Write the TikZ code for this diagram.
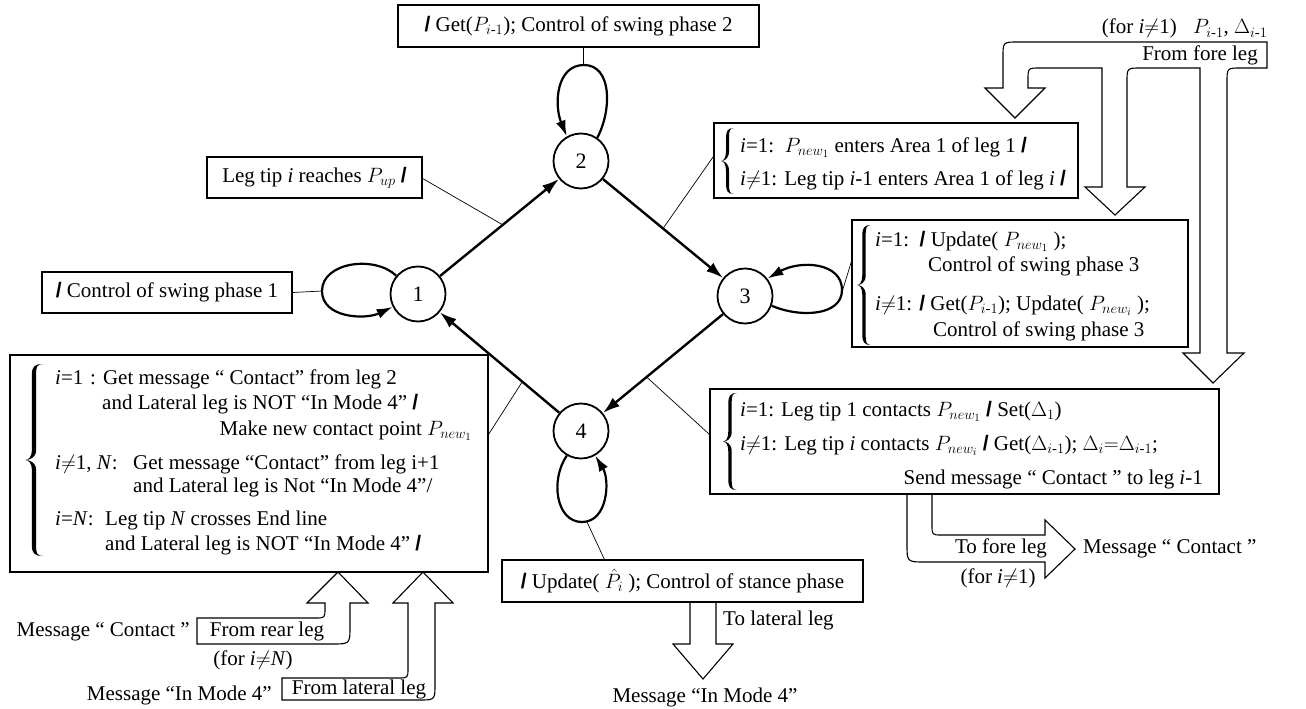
\documentclass[tikz,border=0pt]{standalone}
\usepackage{amsmath}
\usepackage{fontspec}
\setmainfont{Liberation Serif}
\newfontfamily\slashfont{Liberation Sans}
\usetikzlibrary{arrows.meta,calc}
\newcommand{\slsh}{{\slashfont\bfseries /}}
\newcommand{\myhy}{\text{-}}
% #1 x of the brace ends, #2 top y, #3 height, #4 width, #5 half thickness
\newcommand{\drawbrace}[5]{%
  \pgfmathsetmacro\bxm{#1-0.5*#4}%
  \pgfmathsetmacro\bxo{\bxm-#5}%
  \pgfmathsetmacro\bxi{\bxm+#5}%
  \pgfmathsetmacro\bxt{#1-#4}%
  \pgfmathsetmacro\bym{#2+0.5*#3}%
  \pgfmathsetmacro\byb{#2+#3}%
  \fill (#1,#2) .. controls (\bxm,#2) and (\bxo,#2+3) .. (\bxo,#2+11)
    -- (\bxo,\bym-10)
    .. controls (\bxo,\bym-3) and (#1-0.8*#4,\bym) .. (\bxt,\bym)
    .. controls (#1-0.8*#4,\bym) and (\bxo,\bym+3) .. (\bxo,\bym+10)
    -- (\bxo,\byb-11)
    .. controls (\bxo,\byb-3) and (\bxm,\byb) .. (#1,\byb)
    .. controls (\bxm+0.15*#4,\byb) and (\bxi,\byb-3) .. (\bxi,\byb-11)
    -- (\bxi,\bym+10)
    .. controls (\bxi,\bym+2) and (#1-0.75*#4,\bym) .. (\bxt,\bym)
    .. controls (#1-0.75*#4,\bym) and (\bxi,\bym-2) .. (\bxi,\bym-10)
    -- (\bxi,#2+11)
    .. controls (\bxi,#2+3) and (\bxm+0.15*#4,#2) .. (#1,#2) -- cycle;%
}
\begin{document}
\begin{tikzpicture}[x=1pt,y=-1pt,
  lbl/.style={font=\fontsize{21}{25}\selectfont, inner sep=0pt, anchor=base west},
  box/.style={draw, line width=1.1pt, inner sep=0pt, font=\fontsize{21}{25}\selectfont},
  state/.style={circle, draw, line width=1.8pt, minimum size=55pt, inner sep=0pt, font=\fontsize{22}{25}\selectfont},
  trans/.style={line width=2.4pt, -{Latex[length=17pt,width=11pt]}},
  selfloop/.style={line width=2.2pt, -{Latex[length=16pt,width=10pt]}},
  note/.style={line width=0.7pt},
  hollow/.style={line width=1.1pt, line join=miter}
]
\useasboundingbox (0,0) rectangle (1306,709);
\fill[white] (0,0) rectangle (1306,709);

% states
\node[state] (c1) at (418,294) {1};
\node[state] (c2) at (581,161) {2};
\node[state] (c3) at (745,296) {3};
\node[state] (c4) at (581,431) {4};

\draw[trans] (c1) -- (c2);
\draw[trans] (c2) -- (c3);
\draw[trans] (c3) -- (c4);
\draw[trans] (c4) -- (c1);

% self loops
\draw[selfloop] (c1.140) .. controls (375,255) and (322,262) .. (322,291) .. controls (322,318) and (365,320) .. (c1.207);
\draw[selfloop] (c2.55) .. controls (612,110) and (612,65) .. (584,65) .. controls (556,65) and (554,105) .. (c2.120);
\draw[selfloop] (c3.-20) .. controls (800,318) and (842,316) .. (842,290) .. controls (842,262) and (800,260) .. (c3.38);
\draw[selfloop] (c4.240) .. controls (550,480) and (556,522) .. (582,522) .. controls (608,522) and (610,480) .. (c4.-60);

\coordinate (l1) at (322,291);
\coordinate (l2) at (583,65);
\coordinate (l3) at (842,292);
\coordinate (l4) at (587,522);

% boxes
\node[box, minimum width=361pt, minimum height=42pt] (top) at (578.5,26) {\slsh{} Get($P_{i\myhy1}$); Control of swing phase 2};
\node[box, minimum width=215pt, minimum height=41pt] (legtip) at (314.5,177.5) {Leg tip \textit{i} reaches $P_{up}$ \slsh};
\node[box, minimum width=250pt, minimum height=41pt] (ctrl1) at (167,292.5) {\slsh{} Control of swing phase 1};
\node[box, minimum width=364pt, minimum height=75pt] (boxA) at (896,160.5) {};
\node[box, minimum width=336pt, minimum height=127pt] (box3) at (1020,283.5) {};
\node[box, minimum width=509pt, minimum height=105pt] (box4) at (964.5,441.5) {};
\node[box, minimum width=478pt, minimum height=217pt] (boxL) at (249,463.5) {};
\node[box, minimum width=361pt, minimum height=42pt] (upd) at (682.5,581) {\slsh{} Update( $\hat{P}_i$ ); Control of stance phase};

% note lines
\draw[note] (top.south -| l2) -- (l2);
\draw[note] (ctrl1.east) -- (l1);
\draw[note] ($(legtip.north east)+(0,22)$) -- ($(c1)!0.52!(c2)$);
\draw[note] ($(boxA.north west)+(0,34)$) -- ($(c2)!0.5!(c3)$);
\draw[note] ($(box3.north west)+(0,42)$) -- (l3);
\draw[note] ($(box4.north west)+(0,46)$) -- ($(c3)!0.6!(c4)$);
\draw[note] ($(boxL.north east)+(0,80)$) -- ($(c4)!0.36!(c1)$);
\draw[note] ($(upd.north west)+(103,0)$) -- (l4);

% braces
\drawbrace{734}{128}{66}{13}{1.5}
\drawbrace{871}{225}{120}{14}{1.7}
\drawbrace{737}{393}{97}{14}{1.7}
\drawbrace{43}{364}{192}{18}{2.1}

% box A
\node[lbl] (a1) at (740,152) {\textit{i}=1:\ \ $P_{new_1}$ enters Area 1 of leg 1 \slsh};
\node[lbl] (a2) at (740,185) {\textit{i}$\neq$1: Leg tip \textit{i}-1 enters Area 1 of leg \textit{i} \slsh};

% box 3
\node[lbl] (b1) at (875,246) {\textit{i}=1:\ \ \slsh{} Update( $P_{new_1}$ );};
\node[lbl] (b2) at (928,271) {Control of swing phase 3};
\node[lbl] (b3) at (875,310) {\textit{i}$\neq$1: \slsh{} Get($P_{i\myhy1}$); Update( $P_{new_i}$ );};
\node[lbl] (b4) at (933,336) {Control of swing phase 3};

% box 4 (right)
\node[lbl] (e1) at (740,416) {\textit{i}=1: Leg tip 1 contacts $P_{new_1}$ \slsh{} Set($\Delta_1$)};
\node[lbl] (e2) at (740,450) {\textit{i}$\neq$1: Leg tip \textit{i} contacts $P_{new_i}$ \slsh{} Get($\Delta_{i\myhy1}$); $\Delta_i{=}\Delta_{i\myhy1}$;};
\node[lbl, anchor=base east] (e3) at (1203,484) {Send message “ Contact ” to leg \textit{i}-1};

% box L
\node[lbl] (d1a) at (55,384) {\textit{i}=1};
\node[lbl] (d1b) at (90,384) {: Get message “ Contact” from leg 2};
\node[lbl] (d2) at (102,409) {and Lateral leg is NOT “In Mode 4” \slsh};
\node[lbl, anchor=base east] (d3) at (472,435) {Make new contact point $P_{new_1}$};
\node[lbl] (d4a) at (55,469) {\textit{i}$\neq$1, \textit{N}:};
\node[lbl] (d4b) at (133,469) {Get message “Contact” from leg i+1};
\node[lbl] (d5) at (133,492) {and Lateral leg is Not “In Mode 4”/};
\node[lbl] (d6a) at (55,525) {\textit{i}=\textit{N}:};
\node[lbl] (d6b) at (105,525) {Leg tip \textit{N} crosses End line};
\node[lbl] (d7) at (105,550) {and Lateral leg is NOT “In Mode 4” \slsh};

% hollow arrows
\draw[hollow] (1267,42) -- (1018,42) .. controls (1003,42) .. (1003,57) -- (1003,88) -- (985,88) -- (1015,118) -- (1045,88) -- (1028,88) -- (1028,80) .. controls (1028,68) .. (1040,68) -- (1102,68) -- (1102,187) -- (1085,187) -- (1115,215) -- (1145,187) -- (1127,187) -- (1127,82) .. controls (1127,68) .. (1141,68) -- (1200,68) -- (1200,353) -- (1183,353) -- (1213,383) -- (1244,353) -- (1227,353) -- (1227,82) .. controls (1227,68) .. (1241,68) -- (1267,68) -- cycle;
\draw[hollow] (907,494) -- (907,544) .. controls (907,562) .. (925,562) -- (1045,562) -- (1045,578) -- (1075,549) -- (1045,520) -- (1045,535) -- (942,535) .. controls (932,535) .. (932,525) -- (932,494);
\draw[hollow] (197,618) -- (315,618) .. controls (325,618) .. (325,608) -- (325,603) -- (307,603) -- (338,572) -- (368,603) -- (350,603) -- (350,626) .. controls (350,644) .. (332,644) -- (197,644) -- cycle;
\draw[hollow] (282,678) -- (398,678) .. controls (408,678) .. (408,668) -- (408,603) -- (393,603) -- (423,572) -- (453,603) -- (435,603) -- (435,684) .. controls (435,700) .. (419,700) -- (282,700) -- cycle;
\draw[hollow] (690,602) -- (690,644) -- (673,644) -- (703,679) -- (733,644) -- (716,644) -- (716,602);

% arrow labels
\node[lbl, anchor=center] (ff) at (1200,55) {From fore leg};
\node[lbl, anchor=base east] (ffc) at (1177,34) {(for \textit{i}$\neq$1)};
\node[lbl] (ffp) at (1193,34) {$P_{i\myhy1}$, $\Delta_{i\myhy1}$};
\node[lbl, anchor=center] (tf) at (1001,548) {To fore leg};
\node[lbl, anchor=center] (tfc) at (998,578) {(for \textit{i}$\neq$1)};
\node[lbl, anchor=west] (tfm) at (1083,549) {Message “ Contact ”};
\node[lbl, anchor=center] (fr) at (267,631) {From rear leg};
\node[lbl, anchor=east] (frm) at (190,632) {Message “ Contact ”};
\node[lbl, anchor=center] (frc) at (253,660) {(for \textit{i}$\neq$\textit{N})};
\node[lbl, anchor=center] (fl) at (359,689) {From lateral leg};
\node[lbl, anchor=east] (flm) at (272,695) {Message “In Mode 4”};
\node[lbl, anchor=west] (tl) at (723,620) {To lateral leg};
\node[lbl, anchor=center] (tlm) at (705,697) {Message “In Mode 4”};
\end{tikzpicture}
\end{document}
